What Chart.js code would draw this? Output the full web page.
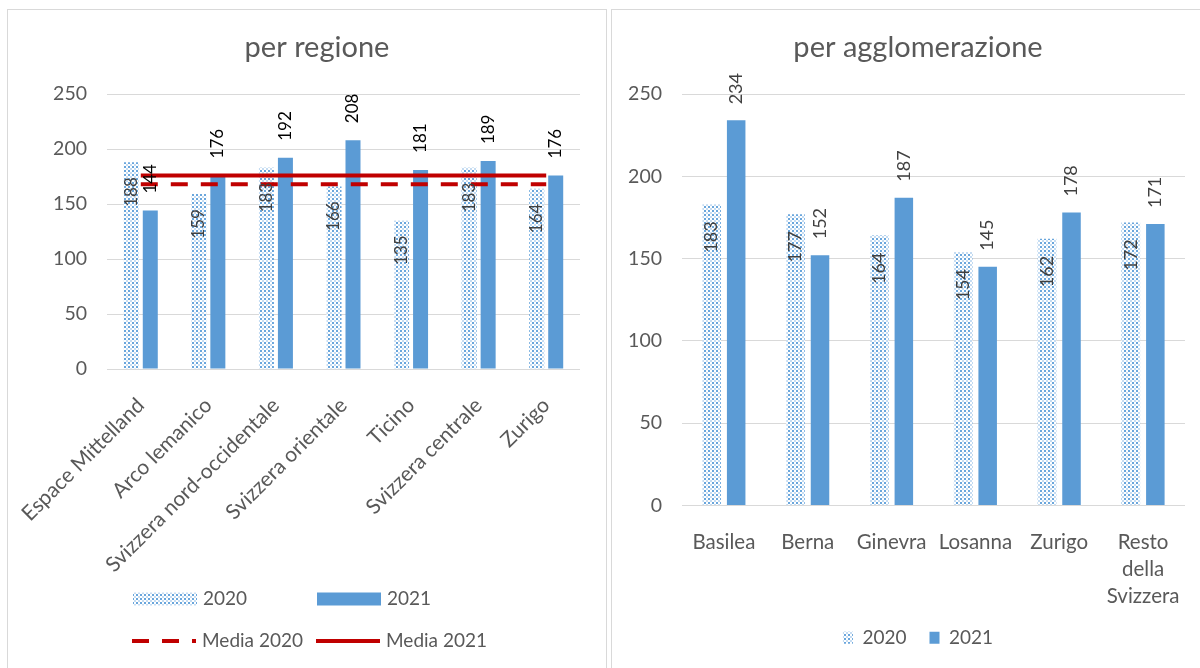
<!DOCTYPE html>
<html>
<head>
<meta charset="utf-8">
<script src="https://cdn.jsdelivr.net/npm/chart.js@4.4.1/dist/chart.umd.min.js"></script>
<style>
html,body{margin:0;padding:0;background:#fff;overflow:hidden;width:1200px;height:668px}
.panel{position:absolute;top:9px;height:720px;border:1px solid #d9d9d9;box-sizing:border-box}
.box{position:absolute;left:0;top:0;height:658px}
</style>
</head>
<body>
<div class="panel" style="left:611px;width:620px"><div class="box" style="width:612px"><canvas id="agglo"></canvas></div></div>
<div class="panel" style="left:7px;width:600px"><div class="box" style="width:618px"><canvas id="regione"></canvas></div></div>
<script>
// values
const regioni = ["Espace Mittelland", "Arco lemanico", "Svizzera nord-occidentale", "Svizzera orientale", "Ticino", "Svizzera centrale", "Zurigo"];
const regione2020 = [188, 159, 183, 166, 135, 183, 164];
const regione2021 = [144, 176, 192, 208, 181, 189, 176];
const media2020 = [168, 168, 168, 168, 168, 168, 168];
const media2021 = [176, 176, 176, 176, 176, 176, 176];

const agglomerazioni = ["Basilea", "Berna", "Ginevra", "Losanna", "Zurigo", ["Resto", "della", "Svizzera"]];
const agglo2020 = [183, 177, 164, 154, 162, 172];
const agglo2021 = [234, 152, 187, 145, 178, 171];

const yTicks = [0, 50, 100, 150, 200, 250];

const BLUE = "#5b9bd5", RED = "#c00000", GREY = "#595959", GRID = "#d9d9d9";
Chart.defaults.font.family = "Lato";
Chart.defaults.color = GREY;

function dots() {
  const c = document.createElement("canvas");
  c.width = 4; c.height = 4;
  const g = c.getContext("2d");
  g.fillStyle = "#fff"; g.fillRect(0, 0, 4, 4);
  g.fillStyle = "#6aa6dc"; g.fillRect(0, 0, 2, 2);
  g.fillStyle = "#c5dcf2"; g.fillRect(2, 2, 2, 2);
  return g.createPattern(c, "repeat");
}
const dotFill = dots();

// rotated value labels, outside or inside the bar end
const barLabels = {
  id: "barLabels",
  afterDatasetsDraw(chart) {
    const ctx = chart.ctx;
    chart.data.datasets.forEach((ds, i) => {
      const vl = ds.valueLabel;
      if (!vl) return;
      chart.getDatasetMeta(i).data.forEach((bar, j) => {
        ctx.save();
        ctx.translate(bar.x, bar.y);
        ctx.rotate(-Math.PI / 2);
        ctx.font = vl.size + "px Lato";
        ctx.fillStyle = vl.color;
        ctx.textBaseline = "middle";
        if (vl.pos === "out") { ctx.textAlign = "left"; ctx.fillText(ds.data[j], vl.offset, 0); }
        else { ctx.textAlign = "right"; ctx.fillText(ds.data[j], -vl.offset, 0); }
        ctx.restore();
      });
    });
  }
};

// two-column legend like the spreadsheet one
const gridLegend = {
  id: "gridLegend",
  afterDraw(chart, args, opts) {
    if (!opts.items) return;
    const ctx = chart.ctx;
    ctx.save();
    opts.items.forEach(it => {
      const ds = chart.data.datasets[it.ds];
      if (ds.type === "line") {
        ctx.strokeStyle = ds.borderColor;
        ctx.lineWidth = ds.borderWidth;
        ctx.setLineDash(ds.borderDash || []);
        ctx.beginPath(); ctx.moveTo(it.x, it.y); ctx.lineTo(it.x + opts.w, it.y); ctx.stroke();
        ctx.setLineDash([]);
      } else {
        ctx.fillStyle = ds.backgroundColor;
        ctx.fillRect(it.x, it.y - opts.h / 2, opts.w, opts.h);
      }
      ctx.font = opts.size + "px Lato";
      ctx.fillStyle = GREY;
      ctx.textBaseline = "middle";
      ctx.textAlign = "left";
      ctx.fillText(ds.label, it.x + opts.w + 6, it.y);
    });
    ctx.restore();
  }
};

function yAxis(width) {
  return {
    min: 0, max: 250,
    afterBuildTicks: s => { s.ticks = yTicks.map(v => ({value: v})); },
    afterFit: s => { s.width = width; },
    border: {display: false},
    grid: {color: GRID, lineWidth: 1, drawTicks: false},
    ticks: {padding: 20, color: GREY, font: {size: 19.5}}
  };
}

// empty right-hand box, only to keep the title centred like the original
function spacer(width) {
  return {
    position: "right", display: true,
    afterFit: s => { s.width = width; },
    grid: {display: false}, border: {display: false}, ticks: {display: false}
  };
}

function titleOpts(text) {
  return {display: true, text: text, color: GREY, font: {size: 29, weight: "normal"}, padding: {top: 20, bottom: 29.2}};
}

new Chart(document.getElementById("regione"), {
  type: "bar",
  data: {
    labels: regioni,
    datasets: [
      {type: "line", label: "Media 2020", data: media2020, borderColor: RED, borderWidth: 4, borderDash: [17, 13], pointRadius: 0, fill: false, order: 0},
      {type: "line", label: "Media 2021", data: media2021, borderColor: RED, borderWidth: 4, pointRadius: 0, fill: false, order: 0},
      {label: "2020", data: regione2020, backgroundColor: dotFill, order: 1,
       categoryPercentage: 0.562, barPercentage: 0.79, valueLabel: {pos: "in", offset: 15, color: "#404040", size: 17}},
      {label: "2021", data: regione2021, backgroundColor: BLUE, order: 1,
       categoryPercentage: 0.562, barPercentage: 0.79, valueLabel: {pos: "out", offset: 17, color: "#000", size: 17}}
    ]
  },
  options: {
    responsive: true, maintainAspectRatio: false, animation: false,
    layout: {padding: 0},
    plugins: {
      legend: {display: false}, tooltip: {enabled: false},
      title: titleOpts("per regione"),
      gridLegend: {w: 64, h: 13, size: 19, items: [
        {ds: 2, x: 125, y: 589}, {ds: 3, x: 309, y: 589},
        {ds: 0, x: 124, y: 631}, {ds: 1, x: 308, y: 631}
      ]}
    },
    scales: {
      x: {
        // long rotated labels may hang past the plot edge, as in the original
        afterFit: s => { s.height = 299; s.paddingLeft = 0; s.paddingRight = 0; },
        grid: {display: false}, border: {display: false},
        ticks: {autoSkip: false, minRotation: 45, maxRotation: 45, padding: 16, color: GREY, font: {size: 21}}
      },
      y: yAxis(99),
      pad: spacer(46)
    }
  },
  plugins: [barLabels, gridLegend]
});

new Chart(document.getElementById("agglo"), {
  type: "bar",
  data: {
    labels: agglomerazioni,
    datasets: [
      {label: "2020", data: agglo2020, backgroundColor: dotFill,
       categoryPercentage: 0.585, barPercentage: 0.755, valueLabel: {pos: "in", offset: 17, color: "#404040", size: 18}},
      {label: "2021", data: agglo2021, backgroundColor: BLUE,
       categoryPercentage: 0.585, barPercentage: 0.755, valueLabel: {pos: "out", offset: 16, color: "#404040", size: 18}}
    ]
  },
  options: {
    responsive: true, maintainAspectRatio: false, animation: false,
    layout: {padding: {left: 0, right: 0, top: 0, bottom: 10.75}},
    plugins: {
      tooltip: {enabled: false},
      title: titleOpts("per agglomerazione"),
      legend: {position: "bottom", labels: {boxWidth: 10, boxHeight: 12, padding: 23, color: GREY, font: {size: 19}}}
    },
    scales: {
      x: {
        afterFit: s => { s.height = 99.75; },
        grid: {display: false}, border: {display: false},
        ticks: {autoSkip: false, maxRotation: 0, padding: 15, color: GREY, font: {size: 20.5, lineHeight: 1.32}}
      },
      y: yAxis(70),
      pad: spacer(39)
    }
  },
  plugins: [barLabels]
});
</script>
</body>
</html>
